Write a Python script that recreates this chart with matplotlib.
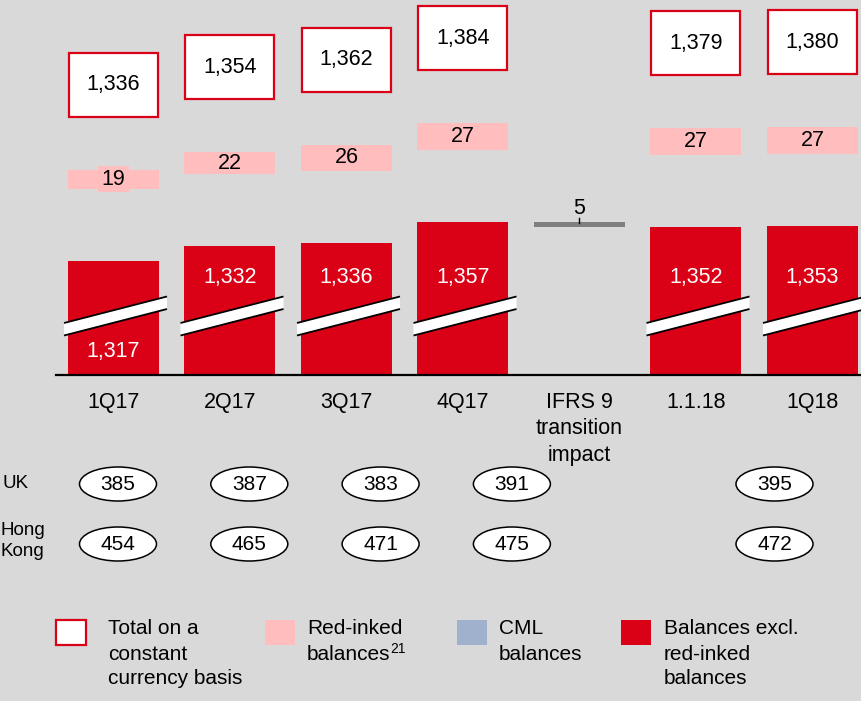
import matplotlib
matplotlib.use('Agg')
import matplotlib.pyplot as plt
from matplotlib.patches import Ellipse, Rectangle, Polygon
import matplotlib.transforms as mtransforms

plt.rcParams['font.family'] = ['Liberation Sans', 'DejaVu Sans']

# ---------------- data ----------------
categories = ['1Q17', '2Q17', '3Q17', '4Q17', 'IFRS 9\ntransition\nimpact', '1.1.18', '1Q18']
balances_excl = [1317, 1332, 1336, 1357, None, 1352, 1353]
red_inked = [19, 22, 26, 27, None, 27, 27]
totals = [1336, 1354, 1362, 1384, None, 1379, 1380]
ifrs_impact = -5
uk = [385, 387, 383, 391, None, None, 395]
hong_kong = [454, 465, 471, 475, None, None, 472]
row_labels = ['UK', 'Hong\nKong']
legend_labels = [['Total on a', 'constant', 'currency basis'], ['Red-inked', 'balances'],
                 ['CML', 'balances'], ['Balances excl.', 'red-inked', 'balances']]
legend_footnotes = [None, '21', None, None]

# ---------------- style / layout ----------------
BG = '#d9d9d9'
RED = '#da0015'
PINK = '#ffbdbd'
BLUE = '#9fb1cd'
GREY = '#7f7f7f'
W, H = 862, 701
BASE_Y = 375          # baseline in px from top
STEP = 116.5          # px between bars
X0 = 113.5            # px centre of first bar
PX = 0.96             # px per unit
FLOOR = 1198          # truncated axis floor
u = 1 / PX
BW = 91 / STEP
TABLE_SLOTS = [0, 1, 2, 3, None, None, 5]

fig = plt.figure(figsize=(W / 100, H / 100), dpi=100, facecolor=BG)

ax = fig.add_axes([0, 1 - BASE_Y / H, 1, BASE_Y / H])
ax.set_facecolor('none')
ax.axis('off')
ax.set_xlim(-X0 / STEP, (W - X0) / STEP)
ax.set_ylim(FLOOR, FLOOR + BASE_Y * u)

slope = (26.5 * u) / (103 / STEP)
t_half = 6.25 * u
cy_px = 59

for i, v in enumerate(balances_excl):
    if v is None:
        continue
    ax.bar(i, v - FLOOR, bottom=FLOOR, width=BW, color=RED, zorder=2, linewidth=0)
    # break marker
    xl = i - BW / 2 - 4 / STEP
    xr = i + BW / 2 + 8 / STEP
    cy = FLOOR + cy_px * u
    xc = (xl + xr) / 2
    yl = cy + slope * (xl - xc)
    yr = cy + slope * (xr - xc)
    ax.add_patch(Polygon([(xl, yl - t_half), (xr, yr - t_half), (xr, yr + t_half), (xl, yl + t_half)],
                         closed=True, fc='white', ec='none', zorder=3))
    ax.plot([xl, xr], [yl - t_half, yr - t_half], color='black', lw=1.3, zorder=4, solid_capstyle='butt')
    ax.plot([xl, xr], [yl + t_half, yr + t_half], color='black', lw=1.3, zorder=4, solid_capstyle='butt')
    # bar value label
    h_px = (v - FLOOR) * PX
    ly = FLOOR + 97 * u if h_px > 122 else FLOOR + 24 * u
    ax.text(i, ly, f'{v:,}', ha='center', va='center', color='white', fontsize=15.5, zorder=5)
    # red-inked
    pb = v + 72 * u
    rh = red_inked[i] * 1.04
    ax.bar(i, rh, bottom=pb, width=BW, color=PINK, zorder=2, linewidth=0)
    pc = pb + rh / 2
    if rh * PX < 21:
        ax.add_patch(Rectangle((i - 15.5 / STEP, pc - 13 * u), 31 / STEP, 26 * u, fc=PINK, ec='none', zorder=2))
    ax.text(i, pc, str(red_inked[i]), ha='center', va='center', fontsize=15.5,
            color='black', zorder=5)
    # total box
    bb = pb + rh + 53 * u
    bh = 64 * u
    ax.bar(i, bh, bottom=bb, width=BW - 2 / STEP, color='white', edgecolor=RED, linewidth=1.6, zorder=2)
    ax.text(i, bb + bh / 2, f'{totals[i]:,}', ha='center', va='center', fontsize=15.5, zorder=5)

# IFRS 9 transition impact
prev = balances_excl[3]
ax.bar(4, -ifrs_impact, bottom=prev + ifrs_impact, width=BW, color=GREY, linewidth=0, zorder=2)
ax.plot([4, 4], [prev - 1 * u, prev + 4 * u], color='black', lw=1, zorder=3)
ax.text(4, prev + 14 * u, str(abs(ifrs_impact)), ha='center', va='center', fontsize=15.5)

# baseline
ax.plot([(56 - X0) / STEP, (W - X0) / STEP], [FLOOR, FLOOR], color='black', lw=1.6, clip_on=False, zorder=6)

# category labels
for i, c in enumerate(categories):
    ax.text(i, FLOOR - 17 * u, c, ha='center', va='top', fontsize=15.5, linespacing=1.33, clip_on=False)

# ---------------- table ----------------
TS = 131.3
TX0 = 118
tax = fig.add_axes([0, 1 - 574 / H, 1, 120 / H])
tax.set_facecolor('none')
tax.axis('off')
tax.set_xlim(-TX0 / TS, (W - TX0) / TS)
tax.set_ylim(1.5, -0.5)
for r, row in enumerate([uk, hong_kong]):
    for i, val in enumerate(row):
        if val is None:
            continue
        s = TABLE_SLOTS[i]
        tax.add_patch(Ellipse((s, r), 77 / TS, 34 / 60, fc='white', ec='black', lw=1.1))
        tax.text(s, r, str(val), ha='center', va='center', fontsize=15)
trans = mtransforms.blended_transform_factory(tax.transAxes, tax.transData)
tax.text(3 / W, 0, row_labels[0], transform=trans, ha='left', va='center', fontsize=13.5)
tax.text(0, 1 - 3 / 60, row_labels[1], transform=trans, ha='left', va='center', fontsize=13.5, linespacing=1.37)

# ---------------- legend ----------------
lax = fig.add_axes([0, 0, 1, 1], zorder=-1)
lax.set_facecolor('none')
lax.axis('off')
lax.set_xlim(0, W)
lax.set_ylim(H, 0)
leg_sq_x = [56, 265, 457, 621]
leg_tx_x = [108, 307, 499, 664]
leg_styles = [dict(fc='white', ec=RED, lw=1.6), dict(fc=PINK, ec='none'),
              dict(fc=BLUE, ec='none'), dict(fc=RED, ec='none')]
LINE_H = 25
for sx, tx, lines, fn, st in zip(leg_sq_x, leg_tx_x, legend_labels, legend_footnotes, leg_styles):
    lax.add_patch(Rectangle((sx, 620), 30, 25, **st))
    for k, line in enumerate(lines):
        t = lax.text(tx, 629 + k * LINE_H, line, ha='left', va='center', fontsize=15)
        if fn is not None and k == len(lines) - 1:
            lax.annotate(fn, xy=(1, 0.5), xycoords=t, xytext=(0, 3.5), textcoords='offset points',
                         ha='left', va='center', fontsize=10)

fig.savefig('out.png', dpi=100, facecolor=BG)
